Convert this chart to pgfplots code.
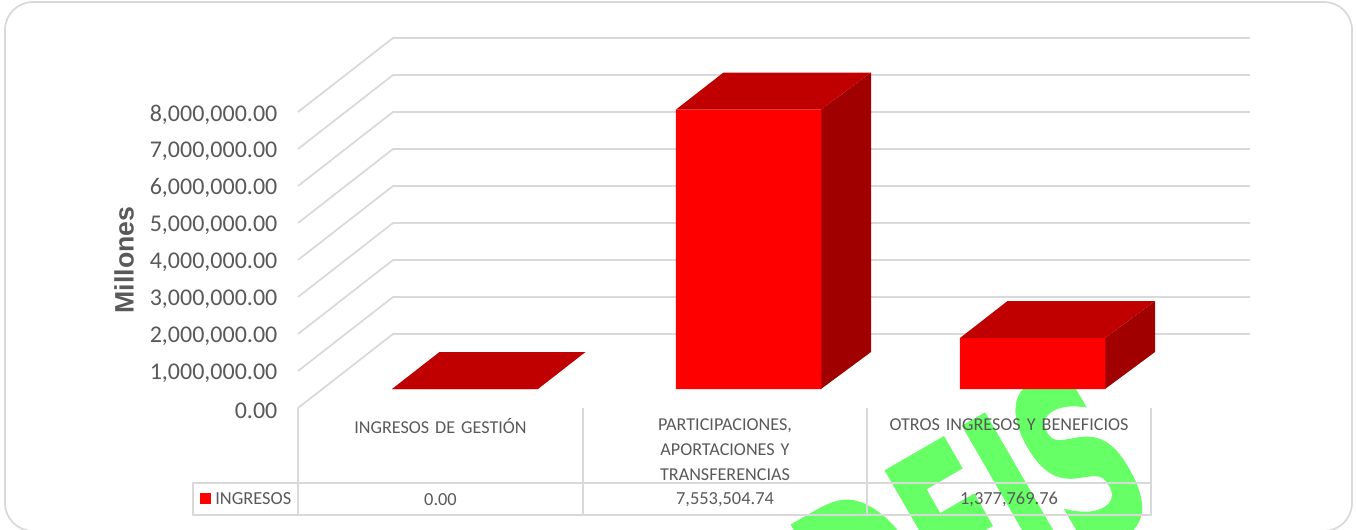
\documentclass[border=0pt]{standalone}
\usepackage{pgfplots}
\pgfplotsset{compat=1.18}
\usepackage{fontspec}
\setmainfont{Carlito}
\newfontfamily\arialb{Liberation Sans}
\newfontfamily\wm[BoldFeatures={FakeBold=1.8}]{DejaVu Sans}
\definecolor{txt}{HTML}{595959}
\definecolor{grd}{HTML}{D9D9D9}
\definecolor{topf}{HTML}{C00000}
\definecolor{sidef}{HTML}{A00000}
\definecolor{wmg}{HTML}{66FF66}
\begin{document}
\begin{tikzpicture}
\path[use as bounding box,clip] (0,0) rectangle (1017.75pt,396.75pt);
\begin{axis}[
  at={(0,0)},anchor=south west,
  scale only axis,width=1017.75pt,height=396.75pt,
  xmin=0,xmax=1357,ymin=-3783784,ymax=10513514,
  axis line style={draw=none},
  axis on top,
  major tick length=0pt,
  scaled y ticks=false,
  ytick={-513514,486486,1486486,2486486,3486486,4486486,5486486,6486486,7486486},
  yticklabels={0.00,{1,000,000.00},{2,000,000.00},{3,000,000.00},{4,000,000.00},{5,000,000.00},{6,000,000.00},{7,000,000.00},{8,000,000.00}},
  yticklabel style={anchor=east,xshift=208.2pt,yshift=-1.8pt,font=\fontsize{18}{20}\selectfont,text=txt,inner sep=0pt},
  xtick={440.5,725,1009},
  xticklabels={INGRESOS DE GESTIÓN,{PARTICIPACIONES,\\APORTACIONES Y\\TRANSFERENCIAS},OTROS INGRESOS Y BENEFICIOS},
  xticklabel style={anchor=north,align=center,text width=205pt,yshift=83pt,font=\fontsize{13.6}{18.7}\selectfont,text=txt,inner sep=0pt},
  ylabel={Millones},
  every axis y label/.style={at={(rel axis cs:0.0914,0.5085)},rotate=90,anchor=center,font=\arialb\bfseries\fontsize{20}{22}\selectfont,text=txt},
]
% frame and watermark, behind the chart
\draw[grd,line width=1.3pt,rounded corners=21pt] (axis cs:5,10459459) rectangle (axis cs:1352,-3837838);
\node[anchor=north west,inner sep=0pt,rotate=30,xscale=.56,text=wmg,font=\wm\bfseries\fontsize{175}{175}\selectfont] at (axis cs:780.5,-3783784) {DEIS};
% back and side gridlines
\addplot[grd,line width=1.3pt] coordinates {(298,-513514)(393,1486486)(1250,1486486)};
\addplot[grd,line width=1.3pt] coordinates {(298,486486)(393,2486486)(1250,2486486)};
\addplot[grd,line width=1.3pt] coordinates {(298,1486486)(393,3486486)(1250,3486486)};
\addplot[grd,line width=1.3pt] coordinates {(298,2486486)(393,4486486)(1250,4486486)};
\addplot[grd,line width=1.3pt] coordinates {(298,3486486)(393,5486486)(1250,5486486)};
\addplot[grd,line width=1.3pt] coordinates {(298,4486486)(393,6486486)(1250,6486486)};
\addplot[grd,line width=1.3pt] coordinates {(298,5486486)(393,7486486)(1250,7486486)};
\addplot[grd,line width=1.3pt] coordinates {(298,6486486)(393,8486486)(1250,8486486)};
\addplot[grd,line width=1.3pt] coordinates {(298,7486486)(393,9486486)(1250,9486486)};
% bar tops and sides
\addplot[fill=topf,draw=none] coordinates {(392,0)(538,0)(585.5,1000000)(439.5,1000000)} -- cycle;
\addplot[fill=sidef,draw=none] coordinates {(821,0)(871,1000000)(871,8553504.74)(821,7553504.74)} -- cycle;
\addplot[fill=topf,draw=none] coordinates {(676,7553504.74)(821,7553504.74)(871,8553504.74)(723.5,8553504.74)} -- cycle;
\addplot[fill=sidef,draw=none] coordinates {(1105,0)(1155,1000000)(1155,2377769.76)(1105,1377769.76)} -- cycle;
\addplot[fill=topf,draw=none] coordinates {(960,1377769.76)(1105,1377769.76)(1155,2377769.76)(1007.5,2377769.76)} -- cycle;
% bar fronts
\addplot[ybar,bar width=145.5,bar shift=0pt,fill=red,draw=none] coordinates {(465,0)(748.5,7553504.74)(1032.5,1377769.76)};
% data table lines
\addplot[grd,line width=1.3pt] coordinates {(193,-2540541)(1151,-2540541)(1151,-3405405)(193,-3405405)} -- cycle;
\addplot[grd,line width=1.3pt] coordinates {(298,-513514)(298,-3405405)};
\addplot[grd,line width=1.3pt] coordinates {(583,-513514)(583,-3405405)};
\addplot[grd,line width=1.3pt] coordinates {(867,-513514)(867,-3405405)};
\addplot[grd,line width=1.3pt] coordinates {(1151,-513514)(1151,-3405405)};
% legend key
\addplot[fill=red,draw=none] coordinates {(200,-2811000)(211,-2811000)(211,-3108000)(200,-3108000)} -- cycle;
\node[anchor=west,inner sep=0pt,text=txt,font=\fontsize{13.8}{16}\selectfont] at (axis cs:215,-2965000) {INGRESOS};
\node[inner sep=0pt,text=txt,font=\fontsize{13.8}{16}\selectfont] at (axis cs:440.5,-2995000) {0.00};
\node[inner sep=0pt,text=txt,font=\fontsize{13.8}{16}\selectfont] at (axis cs:725,-2995000) {7,553,504.74};
\node[inner sep=0pt,text=txt,font=\fontsize{13.8}{16}\selectfont] at (axis cs:1009,-2995000) {1,377,769.76};
\end{axis}
\end{tikzpicture}
\end{document}
